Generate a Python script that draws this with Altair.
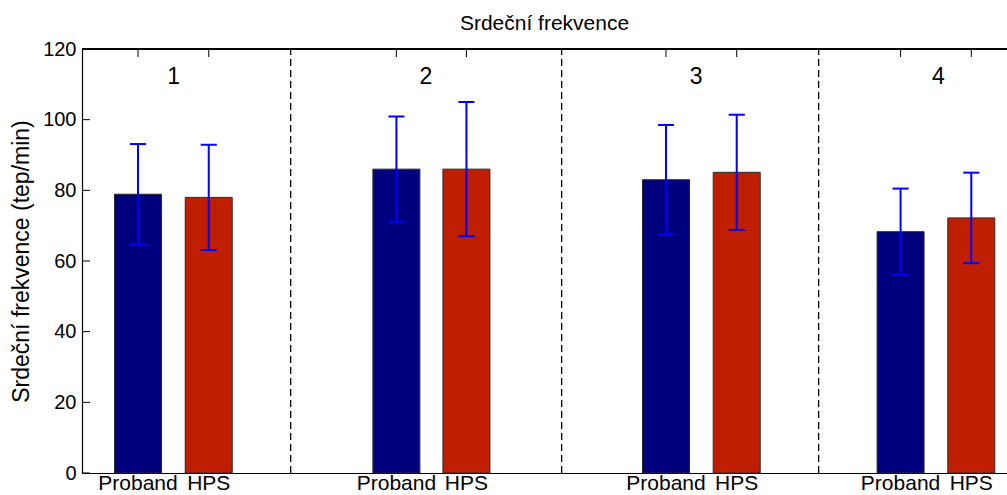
import altair as alt
import pandas as pd

# ---- data ----
groups = ["Proband", "HPS"] * 4
positions = [0.80, 1.81, 4.49, 5.49, 8.34, 9.35, 11.69, 12.70]   # bar centres (x units)
means = [78.9, 78.0, 86.0, 86.0, 83.0, 85.1, 68.3, 72.2]
sds = [14.2, 14.9, 14.9, 19.0, 15.5, 16.3, 12.2, 12.8]
separators = [2.98, 6.85, 10.52]
block_labels = ["1", "2", "3", "4"]
block_label_x = [1.31, 4.91, 8.77, 12.23]
block_label_y = [112, 112, 112, 112]
y_ticks = [0, 20, 40, 60, 80, 100, 120]

FONT = "Liberation Sans"
W, H = 925, 424
X_MAX = 13.21

df = pd.DataFrame({"pos": positions, "group": groups, "mean": means, "sd": sds})
df["lo"] = df["mean"] - df["sd"]
df["hi"] = df["mean"] + df["sd"]
df["capL"] = df["pos"] - 0.115
df["capR"] = df["pos"] + 0.115

sep_df = pd.DataFrame({"x": separators, "y0": [0] * 3, "y1": [120] * 3})
lab_df = pd.DataFrame({"x": block_label_x, "y": block_label_y, "t": block_labels})
tick_df = pd.DataFrame({"y": y_ticks})

xs = alt.Scale(domain=[0, X_MAX], nice=False, zero=False, padding=0)
ys = alt.Scale(domain=[0, 120], nice=False, padding=0)

base = alt.Chart(df)

bars = base.mark_bar(size=47, stroke="#2a2a2a", strokeWidth=1).encode(
    x=alt.X("pos:Q", scale=xs,
            axis=alt.Axis(labels=False, ticks=False, grid=False, title=None,
                          domainColor="black", domainWidth=1.2)),
    y=alt.Y("mean:Q", scale=ys,
            axis=alt.Axis(values=y_ticks, ticks=False, grid=False, domainColor="black",
                          domainWidth=1.2, labelFont=FONT, labelFontSize=20,
                          labelColor="black", labelPadding=6,
                          title="Srdeční frekvence (tep/min)", titleFont=FONT,
                          titleFontSize=23, titleFontWeight="normal",
                          titleColor="black", titlePadding=9)),
    color=alt.Color("group:N", scale=alt.Scale(domain=["Proband", "HPS"],
                                               range=["#00007F", "#C01E00"]),
                    legend=None),
)

err = base.mark_rule(color="#0000FF", strokeWidth=2).encode(
    x="pos:Q", y="lo:Q", y2="hi:Q")
cap_hi = base.mark_rule(color="#0000FF", strokeWidth=2).encode(
    x="capL:Q", x2="capR:Q", y="hi:Q")
cap_lo = base.mark_rule(color="#0000FF", strokeWidth=2).encode(
    x="capL:Q", x2="capR:Q", y="lo:Q")

xlabels = base.mark_text(font=FONT, fontSize=21, color="black",
                         baseline="alphabetic").encode(
    x="pos:Q", y=alt.value(H + 17), text="group:N")

top_ticks = base.mark_rule(color="black", strokeWidth=1).encode(
    x="pos:Q", y=alt.value(0), y2=alt.value(8))

left_ticks = alt.Chart(tick_df).mark_rule(color="black", strokeWidth=1).encode(
    y=alt.Y("y:Q", scale=ys), x=alt.value(0), x2=alt.value(8))

seps = alt.Chart(sep_df).mark_rule(color="black", strokeWidth=1.3,
                                   strokeDash=[7, 4]).encode(
    x=alt.X("x:Q", scale=xs), y=alt.Y("y0:Q", scale=ys), y2="y1:Q")

top_line = alt.Chart(tick_df).mark_rule(color="black", strokeWidth=1.2).encode(
    x=alt.value(0), x2=alt.value(W), y=alt.value(0))

nums = alt.Chart(lab_df).mark_text(font=FONT, fontSize=23, color="black",
                                   baseline="middle").encode(
    x=alt.X("x:Q", scale=xs), y=alt.Y("y:Q", scale=ys), text="t:N")

chart = alt.layer(left_ticks, top_ticks, bars, err, cap_hi, cap_lo, seps,
                  top_line, nums, xlabels).properties(
    width=W, height=H,
    title=alt.TitleParams("Srdeční frekvence", font=FONT, fontSize=21,
                          fontWeight="normal", color="black", anchor="middle",
                          offset=5),
    autosize=alt.AutoSizeParams(type="none"),
    padding={"left": 82, "top": 49, "right": 0, "bottom": 22},
).configure_view(stroke=None).configure(background="white")

chart.save("out.html", embed_options={"renderer": "svg", "actions": False})
